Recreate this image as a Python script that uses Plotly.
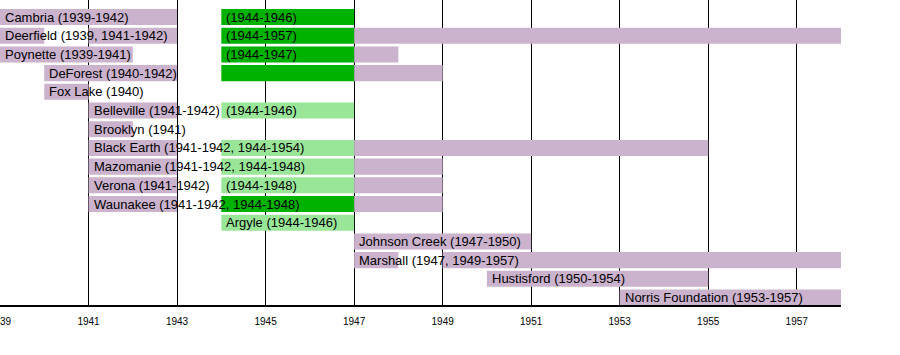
import plotly.graph_objects as go

teams = ["Cambria", "Deerfield", "Poynette", "DeForest", "Fox Lake", "Belleville",
         "Brooklyn", "Black Earth", "Mazomanie", "Verona", "Waunakee", "Argyle",
         "Johnson Creek", "Marshall", "Hustisford", "Norris Foundation"]

# bar segments: team, from year, till year (exclusive), kind
seg_team = ["Cambria", "Cambria",
            "Deerfield", "Deerfield", "Deerfield", "Deerfield",
            "Poynette", "Poynette", "Poynette",
            "DeForest", "DeForest", "DeForest",
            "Fox Lake",
            "Belleville", "Belleville",
            "Brooklyn",
            "Black Earth", "Black Earth", "Black Earth",
            "Mazomanie", "Mazomanie", "Mazomanie",
            "Verona", "Verona", "Verona",
            "Waunakee", "Waunakee", "Waunakee",
            "Argyle",
            "Johnson Creek",
            "Marshall", "Marshall",
            "Hustisford",
            "Norris Foundation"]
seg_from = [1939, 1944,
            1939, 1941, 1944, 1947,
            1939, 1944, 1947,
            1940, 1944, 1947,
            1940,
            1941, 1944,
            1941,
            1941, 1944, 1947,
            1941, 1944, 1947,
            1941, 1944, 1947,
            1941, 1944, 1947,
            1944,
            1947,
            1947, 1949,
            1950,
            1953]
seg_till = [1943, 1947,
            1940, 1943, 1947, 1958,
            1942, 1947, 1948,
            1943, 1947, 1949,
            1941,
            1943, 1947,
            1942,
            1943, 1947, 1955,
            1943, 1947, 1949,
            1943, 1947, 1949,
            1943, 1947, 1949,
            1947,
            1951,
            1948, 1958,
            1955,
            1958]
seg_kind = ["purple", "dark",
            "purple", "purple", "dark", "purple",
            "purple", "dark", "purple",
            "purple", "dark", "purple",
            "purple",
            "purple", "light",
            "purple",
            "purple", "light", "purple",
            "purple", "light", "purple",
            "purple", "light", "purple",
            "purple", "dark", "purple",
            "light",
            "purple",
            "purple", "purple",
            "purple",
            "purple"]

label_team = ["Cambria", "Cambria", "Deerfield", "Deerfield", "Poynette", "Poynette",
              "DeForest", "Fox Lake", "Belleville", "Belleville", "Brooklyn",
              "Black Earth", "Mazomanie", "Verona", "Verona", "Waunakee", "Argyle",
              "Johnson Creek", "Marshall", "Hustisford", "Norris Foundation"]
label_year = [1939, 1944, 1939, 1944, 1939, 1944,
              1940, 1940, 1941, 1944, 1941,
              1941, 1941, 1941, 1944, 1941, 1944,
              1947, 1947, 1950, 1953]
label_text = ["Cambria (1939-1942)", "(1944-1946)",
              "Deerfield (1939, 1941-1942)", "(1944-1957)",
              "Poynette (1939-1941)", "(1944-1947)",
              "DeForest (1940-1942)", "Fox Lake (1940)",
              "Belleville (1941-1942)", "(1944-1946)", "Brooklyn (1941)",
              "Black Earth (1941-1942, 1944-1954)", "Mazomanie (1941-1942, 1944-1948)",
              "Verona (1941-1942)", "(1944-1948)", "Waunakee (1941-1942, 1944-1948)",
              "Argyle (1944-1946)", "Johnson Creek (1947-1950)",
              "Marshall (1947, 1949-1957)", "Hustisford (1950-1954)",
              "Norris Foundation (1953-1957)"]

tick_years = [1939, 1941, 1943, 1945, 1947, 1949, 1951, 1953, 1955, 1957]

colors = {"purple": "#CBB2CD", "dark": "#00B200", "light": "#99E699"}
FONT = "Liberation Sans, Arial, Helvetica, sans-serif"

row = {t: i for i, t in enumerate(teams)}

fig = go.Figure()
for kind in ["purple", "dark", "light"]:
    idx = [i for i, k in enumerate(seg_kind) if k == kind]
    fig.add_trace(go.Bar(
        orientation="h",
        y=[row[seg_team[i]] for i in idx],
        base=[seg_from[i] for i in idx],
        x=[seg_till[i] - seg_from[i] for i in idx],
        width=0.86,
        marker=dict(color=colors[kind], line=dict(width=0)),
        showlegend=False,
        hoverinfo="skip",
    ))

for t, yr, txt in zip(label_team, label_year, label_text):
    fig.add_annotation(x=yr, y=row[t], text=txt, showarrow=False,
                       xanchor="left", yanchor="middle", xshift=3,
                       font=dict(family=FONT, size=13, color="black"))

fig.update_layout(
    width=900, height=355,
    margin=dict(l=0, r=59, t=0, b=50, autoexpand=False),
    paper_bgcolor="white", plot_bgcolor="white",
    barmode="overlay",
    showlegend=False,
    xaxis=dict(range=[1939, 1958], tickvals=tick_years, ticktext=[str(v) for v in tick_years],
               showgrid=True, gridcolor="black", gridwidth=1,
               showline=True, linecolor="black", linewidth=1.5,
               ticks="", zeroline=False, ticklabeloverflow="allow",
               automargin=False, ticklabelstandoff=6,
               tickfont=dict(family=FONT, size=10, color="black")),
    yaxis=dict(range=[15.4, -0.91], showticklabels=False, showgrid=False,
               zeroline=False, showline=False, ticks="", automargin=False),
)

fig.write_html("out.html", config={"displayModeBar": False},
               post_script="document.body.style.margin='0';document.body.style.padding='0';")
